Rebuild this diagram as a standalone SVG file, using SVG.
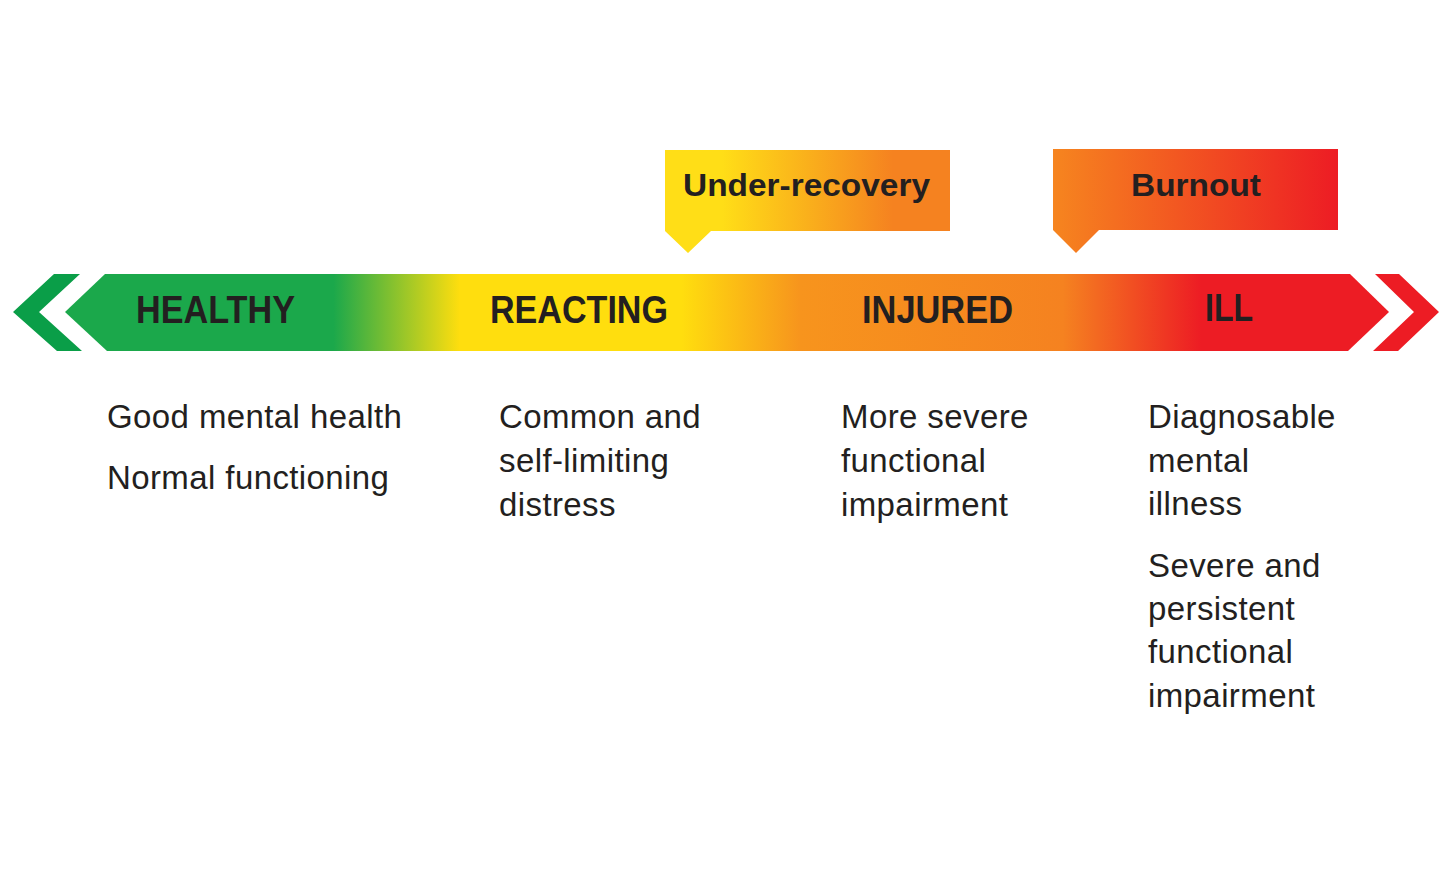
<svg xmlns="http://www.w3.org/2000/svg" width="1456" height="884" viewBox="0 0 1456 884">
  <defs>
    <linearGradient id="band" gradientUnits="userSpaceOnUse" x1="0" y1="0" x2="1456" y2="0">
      <stop offset="0" stop-color="#1BA84B"/>
      <stop offset="0.229" stop-color="#1BA84B"/>
      <stop offset="0.316" stop-color="#FFDE0E"/>
      <stop offset="0.468" stop-color="#FFDE0E"/>
      <stop offset="0.55" stop-color="#F7941D"/>
      <stop offset="0.73" stop-color="#F58220"/>
      <stop offset="0.825" stop-color="#ED1C24"/>
      <stop offset="1" stop-color="#ED1C24"/>
    </linearGradient>
    <linearGradient id="gUnder" gradientUnits="userSpaceOnUse" x1="665" y1="0" x2="950" y2="0">
      <stop offset="0" stop-color="#FFDE17"/>
      <stop offset="0.2" stop-color="#FFDE17"/>
      <stop offset="0.8" stop-color="#F58220"/>
      <stop offset="1" stop-color="#F58220"/>
    </linearGradient>
    <linearGradient id="gBurn" gradientUnits="userSpaceOnUse" x1="1053" y1="0" x2="1338" y2="0">
      <stop offset="0" stop-color="#F6851F"/>
      <stop offset="1" stop-color="#ED1C24"/>
    </linearGradient>
    <style>
      .lbl { font-family: "Liberation Sans", Arial, sans-serif; font-weight: bold; fill: #231F20; }
      .body { font-family: "Liberation Sans", Arial, sans-serif; font-size: 33px; fill: #231F20; letter-spacing: 0.4px; }
    </style>
  </defs>

  <g id="band-arrow">
    <polygon points="54,274 80,274 39,312 82,351 57,351 13,312" fill="#0A9E48"/>
    <polygon points="105,274 1350,274 1389,312 1348,351 107,351 65,312" fill="url(#band)"/>
    <polygon points="1375,274 1399,274 1439,312 1398,351 1373,351 1414,312" fill="#ED1C24"/>
    <text class="lbl" x="136" y="323" font-size="38" textLength="159" lengthAdjust="spacingAndGlyphs">HEALTHY</text>
    <text class="lbl" x="490" y="323" font-size="38" textLength="178" lengthAdjust="spacingAndGlyphs">REACTING</text>
    <text class="lbl" x="862" y="323" font-size="38" textLength="151" lengthAdjust="spacingAndGlyphs">INJURED</text>
    <text class="lbl" x="1205" y="321" font-size="38" textLength="48" lengthAdjust="spacingAndGlyphs">ILL</text>
  </g>

  <g id="under-recovery">
    <polygon points="665,150 950,150 950,231 711,231 688,253 665,231" fill="url(#gUnder)"/>
    <text class="lbl" x="683" y="196" font-size="31" textLength="247" lengthAdjust="spacingAndGlyphs" fill="#000">Under-recovery</text>
  </g>

  <g id="burnout">
    <polygon points="1053,149 1338,149 1338,230 1099,230 1076,253 1053,230" fill="url(#gBurn)"/>
    <text class="lbl" x="1131" y="196" font-size="31" textLength="130" lengthAdjust="spacingAndGlyphs" fill="#000">Burnout</text>
  </g>

  <g id="healthy-desc">
    <text class="body" x="107" y="428">Good mental health</text>
    <text class="body" x="107" y="489">Normal functioning</text>
  </g>

  <g id="reacting-desc">
    <text class="body" x="499" y="428">Common and</text>
    <text class="body" x="499" y="472">self-limiting</text>
    <text class="body" x="499" y="516">distress</text>
  </g>

  <g id="injured-desc">
    <text class="body" x="841" y="428">More severe</text>
    <text class="body" x="841" y="472">functional</text>
    <text class="body" x="841" y="516">impairment</text>
  </g>

  <g id="ill-desc">
    <text class="body" x="1148" y="428">Diagnosable</text>
    <text class="body" x="1148" y="472">mental</text>
    <text class="body" x="1148" y="515">illness</text>
    <text class="body" x="1148" y="577">Severe and</text>
    <text class="body" x="1148" y="620">persistent</text>
    <text class="body" x="1148" y="663">functional</text>
    <text class="body" x="1148" y="707">impairment</text>
  </g>
</svg>
